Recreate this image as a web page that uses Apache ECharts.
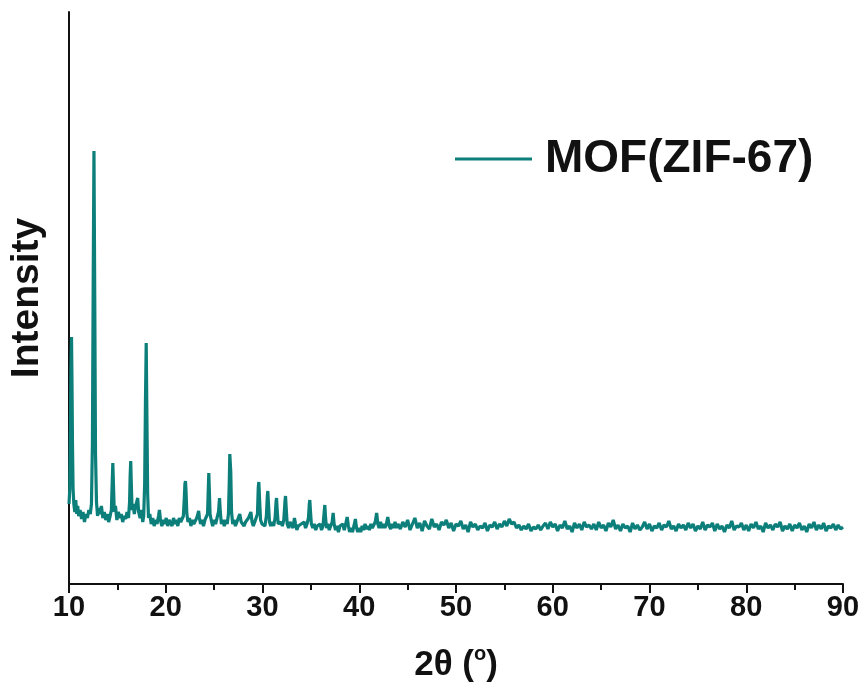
<!DOCTYPE html>
<html>
<head>
<meta charset="utf-8">
<script src="https://cdn.jsdelivr.net/npm/echarts@6/dist/echarts.min.js"></script>
<style>
html,body{margin:0;padding:0;background:#fff;}
#chart{width:866px;height:691px;}
</style>
</head>
<body>
<div id="chart"></div>
<script>
// ---- data ----
var seriesName = 'MOF(ZIF-67)';
var xTicks = [10, 20, 30, 40, 50, 60, 70, 80, 90];

var scanLowAngle = [
[10.00,80],[10.08,95],[10.14,150],[10.20,215],[10.26,247],[10.31,200],[10.36,140],[10.42,95],[10.50,80],[10.60,72],
[10.70,84],[10.80,70],[10.90,78],[11.00,68],[11.15,74],[11.30,65],[11.45,72],[11.60,62],[11.75,70],[11.90,66],
[12.05,74],[12.20,70],[12.32,80],[12.42,140],[12.50,300],[12.58,433],[12.66,290],[12.74,130],[12.84,82],[12.95,68],
[13.05,76],[13.20,70],[13.35,78],[13.50,66],[13.65,72],[13.80,64],[13.95,70],[14.10,62],[14.25,68],[14.38,74],
[14.46,100],[14.53,121],[14.60,98],[14.68,72],[14.80,78],[14.95,64],[15.10,72],[15.25,66],[15.40,70],[15.55,62],
[15.70,68],[15.85,65],[16.00,72],[16.15,66],[16.26,82],[16.32,108],[16.38,123],[16.44,100],[16.52,74],[16.62,80],
[16.75,70],[16.90,78],[17.02,76],[17.10,86],[17.20,72],[17.35,66],[17.50,74],[17.62,62],[17.72,68],[17.82,100],
[17.90,180],[17.98,241],[18.05,170],[18.13,90],[18.22,66],[18.35,70],[18.50,60],[18.65,66],[18.80,58],[18.95,64],
[19.10,60],[19.25,68],[19.35,74],[19.45,64],[19.60,58],[19.75,64],[19.90,60],[20.05,66],[20.20,58],[20.35,64],
[20.50,62],[20.65,58],[20.80,66],[20.95,60],[21.10,64],[21.25,58],[21.40,66],[21.55,62],[21.70,60],[21.82,68],
[21.92,86],[21.98,100],[22.04,103],[22.10,92],[22.18,70],[22.30,62],[22.45,66],[22.60,58],[22.75,64],[22.90,60],
[23.05,62],[23.20,66],[23.32,70],[23.40,73],[23.48,66],[23.60,60],[23.75,64],[23.90,58],[24.05,64],[24.20,62],
[24.32,70],[24.40,96],[24.45,111],[24.50,96],[24.58,70],[24.70,64],[24.85,58],[25.00,64],[25.15,60],[25.30,62],
[25.45,72],[25.56,86],[25.64,72],[25.75,60],[25.90,64],[26.05,58],[26.20,64],[26.35,60],[26.48,70],[26.56,100],
[26.62,130],[26.66,132],[26.72,112],[26.80,72],[26.92,60],[27.05,64],[27.20,58],[27.35,62],[27.50,66],[27.65,70],
[27.80,62],[27.95,64],[28.10,58],[28.25,62],[28.40,60],[28.55,66],[28.70,68],[28.80,72],[28.92,62],[29.05,58],
[29.20,62],[29.35,60],[29.48,70],[29.56,96],[29.62,102],[29.70,84],[29.80,64],[29.95,60],[30.10,62],[30.25,58],
[30.40,68],[30.50,88],[30.55,93],[30.62,80],[30.72,62],[30.85,58],[31.00,62],[31.15,58],[31.30,66],[31.40,82],
[31.45,86],[31.52,74],[31.62,60],[31.75,58],[31.90,62],[32.05,58],[32.20,64],[32.32,82],[32.38,88],[32.45,76],
[32.55,60],[32.70,56],[32.85,62],[33.00,60],[33.15,56],[33.30,66],[33.42,60],[33.55,54],[33.70,58],[33.85,56],
[34.00,60],[34.15,58],[34.30,62],[34.45,56],[34.60,60],[34.75,66],[34.84,80],[34.89,84],[34.95,74],[35.05,60],
[35.20,56],[35.35,60],[35.50,54],[35.65,58],[35.80,56],[35.95,60],[36.10,54],[36.25,58],[36.36,70],[36.44,79],
[36.52,66],[36.62,56],[36.75,60],[36.90,54],[37.05,58],[37.20,62],[37.30,71],[37.40,60],[37.55,54],[37.70,58],
[37.85,52],[38.00,58],[38.15,56],[38.30,60],[38.45,54],[38.60,60],[38.75,67],[38.88,58],[39.00,52],[39.15,56],
[39.30,52],[39.45,58],[39.60,65],[39.72,56],[39.85,52],[40.00,56],[40.15,52],[40.30,58],[40.45,54],[40.60,60],
[40.75,55],[40.90,58],[41.05,54],[41.20,60],[41.35,56],[41.50,58],[41.65,62],[41.80,71],[41.92,60],[42.05,56],
[42.20,62],[42.35,56],[42.50,60],[42.65,56],[42.80,60],[42.95,67],[43.10,58],[43.25,55],[43.40,60],[43.55,56],
[43.70,62],[43.85,56],[44.00,60]
];

// 44.25-90 deg, sampled every 0.25 deg
var highAngleStart = 44.25;
var highAngleStep = 0.25;
var scanHighAngle = [
55,62,57,64,54,60,66,56,61,53,63,58,55,65,57,60,54,62,59,64,
56,61,53,60,58,63,55,59,52,62,57,60,54,58,56,61,53,59,57,62,
55,60,57,63,58,65,60,62,56,59,54,58,55,60,53,57,55,59,54,58,
61,55,62,57,60,53,59,56,63,55,58,52,61,56,60,54,62,57,59,55,
60,54,62,56,59,53,61,57,64,55,59,53,60,56,58,52,61,55,59,54,
57,62,55,60,53,58,56,61,54,59,57,63,55,58,53,60,56,59,54,61,
56,60,53,58,55,62,54,59,57,61,53,60,55,58,52,59,56,63,54,58,
57,61,54,59,53,60,56,62,55,58,52,61,56,59,54,60,57,62,53,58,
55,60,53,59,56,61,54,58,52,60,56,62,54,59,55,61,53,58,56,60,
54,59,55,57
];

// ---- build ----
var seriesData = scanLowAngle.slice();
for (var i = 0; i < scanHighAngle.length; i++) {
  seriesData.push([+(highAngleStart + i * highAngleStep).toFixed(2), scanHighAngle[i]]);
}

var FONT = 'Liberation Sans, Arial, sans-serif';
var chart = echarts.init(document.getElementById('chart'), null, {renderer: 'canvas'});
chart.setOption({
  backgroundColor: '#ffffff',
  animation: false,
  grid: {left: 69, right: 23, top: 12, bottom: 107, containLabel: false},
  legend: {
    show: true,
    left: 450,
    top: 131,
    icon: 'rect',
    itemWidth: 77,
    itemHeight: 3,
    itemGap: 10,
    data: [seriesName],
    textStyle: {fontFamily: FONT, fontWeight: 'bold', fontSize: 46, color: '#111', padding: [0, 0, 0, 8]}
  },
  xAxis: {
    type: 'value',
    min: xTicks[0],
    max: xTicks[xTicks.length - 1],
    interval: 10,
    name: '2θ ({sup|o})',
    nameLocation: 'middle',
    nameGap: 60,
    nameTextStyle: {
      fontFamily: FONT, fontWeight: 'bold', fontSize: 35, color: '#111',
      rich: {sup: {fontFamily: FONT, fontWeight: 'bold', fontSize: 20, color: '#111', padding: [0, 0, 22, 0]}}
    },
    axisLine: {show: true, lineStyle: {color: '#111', width: 2}},
    axisTick: {show: true, inside: false, length: 9, lineStyle: {color: '#111', width: 2}},
    minorTick: {show: true, splitNumber: 2, length: 6, lineStyle: {color: '#111', width: 2}},
    axisLabel: {fontFamily: FONT, fontWeight: 'bold', fontSize: 29, color: '#111', margin: 9},
    splitLine: {show: false},
    minorSplitLine: {show: false}
  },
  yAxis: {
    type: 'value',
    min: 0,
    max: 572,
    name: 'Intensity',
    nameLocation: 'middle',
    nameGap: 22,
    nameTextStyle: {fontFamily: FONT, fontWeight: 'bold', fontSize: 39, color: '#111'},
    axisLine: {show: true, lineStyle: {color: '#111', width: 2}},
    axisTick: {show: false},
    axisLabel: {show: false},
    splitLine: {show: false}
  },
  series: [{
    name: seriesName,
    type: 'line',
    data: seriesData,
    showSymbol: false,
    symbol: 'none',
    color: '#0c7f7b',
    lineStyle: {color: '#0c7f7b', width: 3.2},
    z: 3
  }]
});
</script>
</body>
</html>
